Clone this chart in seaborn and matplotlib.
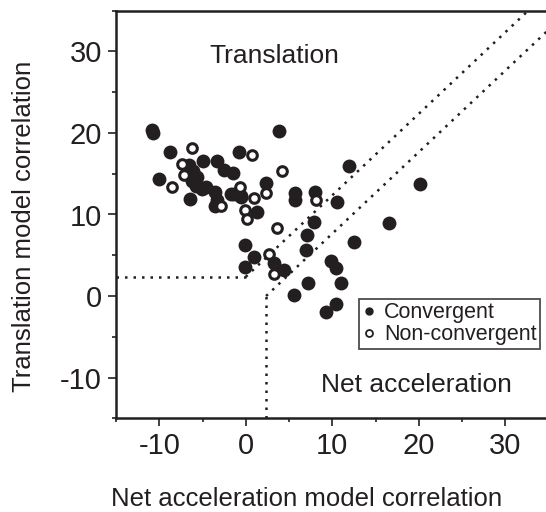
import numpy as np
import pandas as pd
import seaborn as sns
import matplotlib.pyplot as plt
from matplotlib.lines import Line2D
from matplotlib.ticker import MultipleLocator

## Data
conv_x = [-10.8, -10.7, -8.8, -10.0, -4.9, -3.3, -2.5, -1.5, -0.8, 3.8,
          2.3, -1.35, -0.6, 1.35, 5.7, 5.7, 7.96, 10.6, 11.9, 20.1,
          16.6, 12.5, 7.9, 7.1, 7.0, 7.2, 5.6, 9.3, 10.4, 11.0,
          9.9, 10.4, -0.1, 0.96, -0.1, 3.3, 4.4,
          -6.6, -6.1, -5.6, -6.2, -5.8, -5.1, -4.6, -6.4, -3.5, -3.3,
          -3.6, -1.7, -0.5]
conv_y = [20.4, 20.0, 17.7, 14.3, 16.6, 16.6, 15.4, 15.1, 17.7, 20.3,
          13.9, 12.5, 12.2, 10.3, 12.6, 11.75, 12.8, 11.5, 16.0, 13.7,
          8.9, 6.6, 9.1, 7.5, 5.7, 1.6, 0.1, -1.9, -1.0, 1.6,
          4.3, 3.4, 6.2, 4.8, 3.5, 4.0, 3.2,
          16.1, 15.3, 14.6, 14.1, 13.5, 13.1, 13.4, 11.9, 12.7, 11.8,
          11.0, 12.5, 12.3]
nonconv_x = [-6.2, 0.7, -7.4, -7.1, 4.15, -8.5, -2.9, -0.66, 0.9, 2.3,
             -0.1, 0.1, 8.1, 3.65, 2.7, 3.3]
nonconv_y = [18.2, 17.3, 16.2, 14.9, 15.3, 13.4, 11.0, 13.4, 12.0, 12.6,
             10.6, 9.5, 11.75, 8.4, 5.1, 2.7]
threshold = 2.35

conv = pd.DataFrame({'x': conv_x, 'y': conv_y})
nonconv = pd.DataFrame({'x': nonconv_x, 'y': nonconv_y})

## Style
sns.set_style('ticks')
plt.rcParams['font.family'] = ['Liberation Sans', 'DejaVu Sans']
plt.rcParams['axes.unicode_minus'] = False
ink = '#231f20'

fig = plt.figure(figsize=(5.46, 5.12), dpi=100)
ax = fig.add_axes([116/546, (512-418.3)/512, 432.5/546, 407.6/512])

## Points
sns.scatterplot(data=conv, x='x', y='y', ax=ax, color=ink, s=100,
                linewidth=0, zorder=3)
sns.scatterplot(data=nonconv, x='x', y='y', ax=ax, facecolor='white',
                edgecolor=ink, s=48, linewidth=2.2, zorder=4)

## Dotted boundary lines
dot = dict(color=ink, linestyle=(0, (1, 2.4)), linewidth=1.8, zorder=2)
ax.plot([-15, 0], [threshold, threshold], **dot)
ax.plot([0, 35 - threshold], [threshold, 35], **dot)
ax.plot([threshold, threshold], [-15, 0], **dot)
ax.plot([threshold, 35 + threshold], [0, 35], **dot)

ax.set_xlim(-15, 35)
ax.set_ylim(-15, 35)
ax.xaxis.set_major_locator(MultipleLocator(10))
ax.xaxis.set_minor_locator(MultipleLocator(5))
ax.yaxis.set_major_locator(MultipleLocator(10))
ax.yaxis.set_minor_locator(MultipleLocator(5))
ax.tick_params(which='major', direction='out', length=6, width=1.2,
               labelsize=21, pad=4, color=ink, labelcolor=ink)
ax.tick_params(which='minor', direction='out', length=3, width=1.2, color=ink)
for side in ['left', 'bottom', 'top']:
    ax.spines[side].set_linewidth(1.8)
    ax.spines[side].set_color(ink)
ax.spines['right'].set_visible(False)
ax.set_xlabel('')
ax.set_ylabel('')

ax.text(3.3, 29.5, 'Translation', ha='center', va='center', fontsize=19, color=ink)
ax.text(19.7, -10.9, 'Net acceleration', ha='center', va='center', fontsize=19, color=ink)

fig.text(307/546, 1/512, 'Net acceleration model correlation',
         ha='center', va='bottom', fontsize=18.5, color=ink)
fig.text(24/546, 1 - 226/512, 'Translation model correlation', rotation=90,
         ha='center', va='center', fontsize=18.5, color=ink)

## Legend
handles = [Line2D([], [], marker='o', linestyle='none', markersize=5,
                  markerfacecolor=ink, markeredgecolor=ink),
           Line2D([], [], marker='o', linestyle='none', markersize=5,
                  markerfacecolor='white', markeredgecolor=ink, markeredgewidth=1.3)]
leg = fig.legend(handles, ['Convergent', 'Non-convergent'],
                 loc='upper left', bbox_to_anchor=(359/546, 1 - 299/512),
                 frameon=True, fancybox=False, fontsize=15.5, borderpad=0.15,
                 labelspacing=0.05, handlelength=0.6, handletextpad=0.4,
                 borderaxespad=0)
leg.get_frame().set_edgecolor(ink)
leg.get_frame().set_linewidth(1.3)
for t in leg.get_texts():
    t.set_color(ink)

fig.savefig('out.png', dpi=100)
